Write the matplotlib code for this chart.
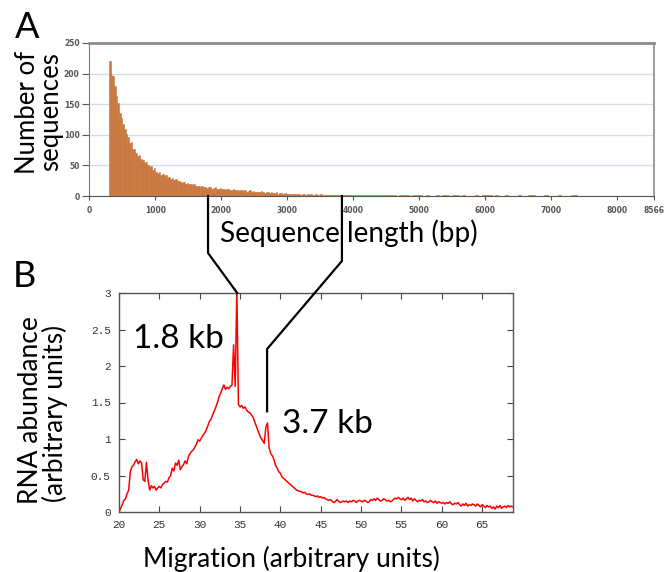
import numpy as np
import matplotlib.pyplot as plt
from matplotlib.lines import Line2D

# ---- panel A: read-length histogram (counts per bin) ----
short_start, short_step = 300, 25      # 300..3975 bp, 25 bp bins
counts_short = [
    221, 198, 196, 180, 163, 152, 136, 128, 117, 110,
    101, 97, 86, 88, 77, 76, 70, 66, 67, 60,
    59, 54, 55, 50, 47, 49, 43, 45, 40, 38,
    39, 35, 36, 33, 34, 30, 31, 28, 29, 26,
    27, 24, 25, 23, 22, 23, 20, 21, 19, 20,
    18, 19, 17, 16, 17, 15, 16, 14, 15, 13,
    14, 15, 12, 13, 14, 11, 12, 13, 11, 12,
    10, 11, 12, 10, 9, 11, 10, 9, 8, 10,
    9, 8, 9, 7, 8, 9, 7, 8, 6, 7,
    7, 6, 8, 6, 5, 7, 6, 5, 6, 5,
    5, 6, 4, 5, 5, 4, 5, 4, 3, 4,
    4, 3, 4, 3, 4, 3, 2, 3, 3, 2,
    3, 2, 3, 2, 2, 3, 2, 2, 3, 2,
    2, 2, 1, 2, 2, 1, 2, 2, 1, 2,
    1, 2, 1, 1, 2, 1, 1, 2,
]
long_start, long_step = 4000, 50       # 4000..7450 bp, 50 bp bins
counts_long = [
    2, 2, 1, 2, 2, 1, 2, 2, 1, 2,
    2, 1, 2, 0, 2, 1, 2, 0, 1, 2,
    2, 0, 1, 0, 0, 2, 0, 1, 2, 0,
    2, 1, 0, 2, 0, 0, 0, 1, 0, 2,
    2, 1, 0, 2, 0, 0, 1, 0, 0, 0,
    2, 0, 0, 1, 2, 0, 0, 0, 1, 0,
    0, 0, 1, 0, 0, 0, 2, 1, 0, 0,
]
x_ticks_a = [0, 1000, 2000, 3000, 4000, 5000, 6000, 7000, 8000, 8566]
y_ticks_a = [0, 50, 100, 150, 200, 250]

# ---- panel B: RNA abundance trace, sampled every 0.2 units from 20 ----
mig_start, mig_step = 20.0, 0.2
abundance = [
    0.00, 0.05, 0.10, 0.16, 0.18, 0.25, 0.30, 0.55, 0.62, 0.64,
    0.69, 0.72, 0.66, 0.70, 0.67, 0.44, 0.42, 0.68, 0.44, 0.30,
    0.36, 0.33, 0.35, 0.30, 0.33, 0.35, 0.33, 0.38, 0.40, 0.42,
    0.41, 0.47, 0.50, 0.60, 0.56, 0.67, 0.64, 0.71, 0.58, 0.62,
    0.65, 0.70, 0.66, 0.76, 0.80, 0.83, 0.85, 0.89, 0.93, 0.99,
    0.97, 1.01, 1.05, 1.08, 1.12, 1.18, 1.24, 1.27, 1.33, 1.38,
    1.44, 1.50, 1.58, 1.63, 1.69, 1.74, 1.68, 1.71, 1.69, 1.72,
    1.74, 2.29, 1.72, 3.05, 1.47, 1.44, 1.46, 1.42, 1.44, 1.40,
    1.37, 1.36, 1.33, 1.30, 1.24, 1.18, 1.12, 1.06, 1.01, 0.98,
    0.94, 1.16, 1.22, 0.88, 0.80, 0.77, 0.72, 0.64, 0.60, 0.55,
    0.53, 0.48, 0.46, 0.44, 0.42, 0.40, 0.38, 0.36, 0.34, 0.32,
    0.30, 0.29, 0.28, 0.28, 0.26, 0.27, 0.25, 0.24, 0.25, 0.23,
    0.23, 0.22, 0.21, 0.22, 0.20, 0.21, 0.19, 0.20, 0.18, 0.17,
    0.16, 0.17, 0.15, 0.13, 0.14, 0.17, 0.15, 0.13, 0.14, 0.15,
    0.14, 0.15, 0.13, 0.15, 0.14, 0.16, 0.15, 0.13, 0.15, 0.16,
    0.15, 0.14, 0.16, 0.15, 0.13, 0.14, 0.17, 0.16, 0.18, 0.16,
    0.19, 0.17, 0.15, 0.16, 0.18, 0.17, 0.15, 0.16, 0.14, 0.15,
    0.17, 0.19, 0.18, 0.20, 0.18, 0.17, 0.19, 0.16, 0.18, 0.20,
    0.17, 0.19, 0.15, 0.18, 0.16, 0.14, 0.16, 0.15, 0.17, 0.14,
    0.15, 0.13, 0.14, 0.16, 0.14, 0.13, 0.15, 0.12, 0.14, 0.13,
    0.12, 0.13, 0.11, 0.13, 0.12, 0.14, 0.11, 0.10, 0.12, 0.11,
    0.13, 0.10, 0.08, 0.11, 0.09, 0.12, 0.08, 0.10, 0.09, 0.11,
    0.10, 0.08, 0.11, 0.09, 0.07, 0.10, 0.08, 0.06, 0.09, 0.07,
    0.08, 0.05, 0.07, 0.04, 0.08, 0.06, 0.09, 0.05, 0.07, 0.08,
    0.06, 0.09, 0.07, 0.08, 0.07,
]
x_ticks_b = [20, 25, 30, 35, 40, 45, 50, 55, 60, 65]
y_ticks_b = [0, 0.5, 1, 1.5, 2, 2.5, 3]
y_labels_b = ['0', '0.5', '1', '1.5', '2', '2.5', '3']

# peaks linked between the panels: (length in bp, migration, abundance)
link_18 = (1800, 34.65, 3.0)
link_37 = (3830, 38.35, 1.38)

W, H = 666, 572
big_font = ['Lato', 'DejaVu Sans']

fig = plt.figure(figsize=(W / 100, H / 100), dpi=100)

# ---------------- panel A ----------------
axA = fig.add_axes([89.3 / W, 1 - 196 / H, 565 / W, 153 / H])
left_short = short_start + short_step * np.arange(len(counts_short))
left_long = long_start + long_step * np.arange(len(counts_long))
bar_col = '#c9773f'
axA.bar(left_short, counts_short, width=short_step, align='edge', color=bar_col,
        edgecolor=bar_col, linewidth=0.4)
axA.bar(left_long, counts_long, width=long_step, align='edge', color=bar_col,
        edgecolor=bar_col, linewidth=0.4)
axA.set_xlim(0, 8566)
axA.set_ylim(0, 250)
axA.set_xticks(x_ticks_a)
axA.set_yticks(y_ticks_a)
axA.yaxis.grid(True, color='#d6dde6', lw=1)
axA.set_axisbelow(True)
for s in ['top', 'right']:
    axA.spines[s].set_color('#8c8c8c')
axA.spines['top'].set_linewidth(2)
axA.spines['right'].set_linewidth(1.2)
axA.spines['left'].set_color('#7a7a7a')
axA.spines['bottom'].set_color('#555555')
axA.tick_params(axis='both', direction='out', length=3, width=0.8, color='#555555',
                labelsize=5.5, labelcolor='#555555', pad=4)
axA.tick_params(axis='y', length=5, pad=2)
for lab in axA.get_xticklabels() + axA.get_yticklabels():
    lab.set_fontweight('bold')

# ---------------- panel B ----------------
axB = fig.add_axes([119 / W, 1 - 512 / H, 394 / W, 219 / H])
mig = mig_start + mig_step * np.arange(len(abundance))
axB.plot(mig, abundance, color='#ff0000', lw=1.1)
axB.set_xlim(20, 68.82)
axB.set_ylim(0, 3)
axB.set_xticks(x_ticks_b)
axB.set_yticks(y_ticks_b)
axB.set_yticklabels(y_labels_b)
for s in axB.spines.values():
    s.set_color('#555555')
    s.set_linewidth(1.0)
axB.tick_params(axis='both', direction='in', length=4, width=0.8, color='#444444',
                top=True, right=True, labelsize=8, labelcolor='#333333', pad=6)
for lab in axB.get_xticklabels() + axB.get_yticklabels():
    lab.set_family('Liberation Mono')

# ---------------- text ----------------
fig.text(15 / W, 1 - 38 / H, 'A', fontsize=26, family=big_font, va='baseline', ha='left')
fig.text(13 / W, 1 - 287 / H, 'B', fontsize=26, family=big_font, va='baseline', ha='left')
fig.text(35 / W, 1 - 112 / H, 'Number of', fontsize=18.5, family=big_font, rotation=90,
         rotation_mode='anchor', ha='center', va='baseline')
fig.text(58.5 / W, 1 - 112 / H, 'sequences', fontsize=18.5, family=big_font, rotation=90,
         rotation_mode='anchor', ha='center', va='baseline')
fig.text(38.5 / W, 1 - 410 / H, 'RNA abundance', fontsize=19, family=big_font, rotation=90,
         rotation_mode='anchor', ha='center', va='baseline')
fig.text(63.5 / W, 1 - 413 / H, '(arbitrary units)', fontsize=19, family=big_font, rotation=90,
         rotation_mode='anchor', ha='center', va='baseline')
fig.text(348.5 / W, 1 - 242 / H, 'Sequence length (bp)', fontsize=20.2, family=big_font,
         ha='center', va='baseline')
fig.text(291 / W, 1 - 567 / H, 'Migration (arbitrary units)', fontsize=19, family=big_font,
         ha='center', va='baseline')
fig.text(178.5 / W, 1 - 348 / H, '1.8 kb', fontsize=24, family=big_font, ha='center', va='baseline')
fig.text(327 / W, 1 - 433 / H, '3.7 kb', fontsize=24, family=big_font, ha='center', va='baseline')

# ---------------- connectors between the panels ----------------
inv = fig.transFigure.inverted()


def fig_pt(ax, x, y):
    return inv.transform(ax.transData.transform((x, y)))


a1 = fig_pt(axA, link_18[0], 0)
b1 = fig_pt(axB, link_18[1], link_18[2])
xs = [a1[0], a1[0], b1[0]]
ys = [a1[1], 1 - 253 / H, b1[1]]
fig.add_artist(Line2D(xs, ys, color='black', lw=1.6, transform=fig.transFigure))

a2 = fig_pt(axA, link_37[0], 0)
b2 = fig_pt(axB, link_37[1], link_37[2])
xs = [a2[0], a2[0], b2[0], b2[0]]
ys = [a2[1], 1 - 261 / H, 1 - 349 / H, b2[1]]
fig.add_artist(Line2D(xs, ys, color='black', lw=1.6, transform=fig.transFigure))

fig.savefig('out.png', dpi=100)
